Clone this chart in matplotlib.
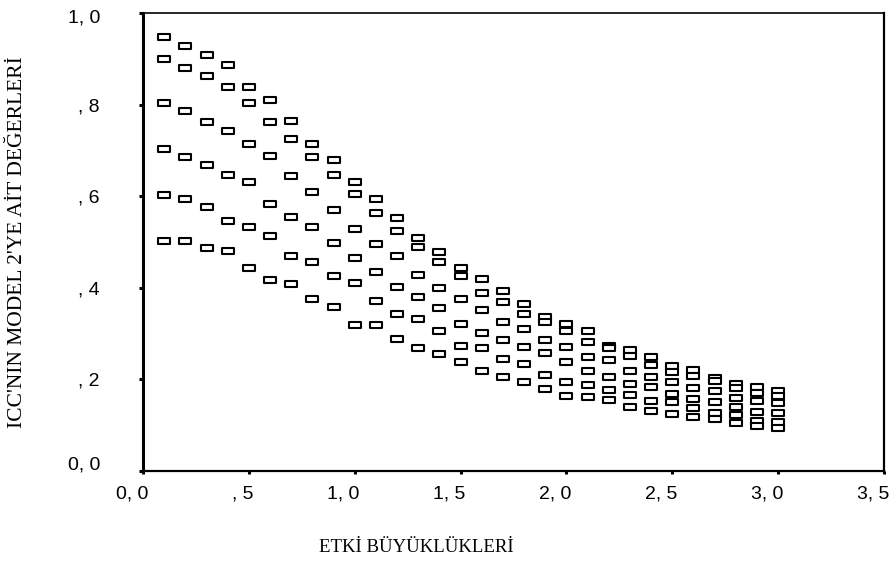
import matplotlib
matplotlib.use("Agg")
import matplotlib.pyplot as plt
import numpy as np
from matplotlib.path import Path
from matplotlib.transforms import ScaledTranslation

# effect sizes
x_vals = [0.1, 0.2, 0.3, 0.4, 0.5, 0.6, 0.7, 0.8, 0.9, 1.0,
          1.1, 1.2, 1.3, 1.4, 1.5, 1.6, 1.7, 1.8, 1.9, 2.0,
          2.1, 2.2, 2.3, 2.4, 2.5, 2.6, 2.7, 2.8, 2.9, 3.0]

# ICC values per series (highest to lowest at each effect size)
s1 = [.947, .929, .909, .886, .838, .809, .765, .714, .678, .630,
      .593, .553, .509, .479, .443, .419, .392, .365, .337, .322,
      .305, .272, .264, .248, .229, .221, .203, .191, .183, .175]
s2 = [.899, .881, .862, .838, .803, .761, .725, .685, .647, .604,
      .563, .523, .489, .456, .426, .389, .368, .342, .325, .305,
      .282, .268, .251, .231, .217, .207, .196, .181, .171, .164]
s3 = [.804, .787, .761, .742, .714, .688, .644, .610, .570, .529,
      .496, .469, .429, .399, .375, .352, .325, .311, .285, .271,
      .248, .242, .218, .205, .195, .181, .174, .160, .153, .148]
s4 = [.703, .686, .668, .647, .631, .584, .554, .533, .497, .466,
      .435, .402, .379, .355, .322, .302, .285, .271, .258, .238,
      .218, .206, .191, .184, .168, .158, .151, .140, .129, .126]
s5 = [.603, .593, .577, .546, .533, .513, .469, .457, .426, .410,
      .372, .342, .332, .305, .274, .268, .245, .234, .210, .194,
      .188, .177, .167, .153, .151, .137, .127, .122, .110, .107]
s6 = [.502, .502, .486, .480, .443, .417, .408, .376, .357, .319,
      .319, .288, .268, .255, .238, .218, .205, .194, .178, .164,
      .161, .155, .140, .131, .124, .117, .114, .105, .098, .093]

x_ticks = [0.0, 0.5, 1.0, 1.5, 2.0, 2.5, 3.0, 3.5]
x_ticklabels = ["0, 0", ", 5", "1, 0", "1, 5", "2, 0", "2, 5", "3, 0", "3, 5"]
y_ticks = [0.0, 0.2, 0.4, 0.6, 0.8, 1.0]
y_ticklabels = ["0, 0", ", 2", ", 4", ", 6", ", 8", "1, 0"]

fig = plt.figure(figsize=(8.89, 5.63), dpi=100)
ax = fig.add_axes([143/889, 1 - 471/563, (884-143)/889, (471-13)/563])

rect = Path([(-1, -0.55), (1, -0.55), (1, 0.55), (-1, 0.55), (-1, -0.55)],
            [Path.MOVETO, Path.LINETO, Path.LINETO, Path.LINETO, Path.CLOSEPOLY])

for s in (s1, s2, s3, s4, s5, s6):
    ax.plot(x_vals, s, linestyle='none', marker=rect, markersize=8.5,
            markerfacecolor='white', markeredgecolor='black', markeredgewidth=1.5)

ax.set_xlim(0, 3.5)
ax.set_ylim(0, 1.0)

ax.spines['left'].set_linewidth(2.2)
ax.spines['bottom'].set_linewidth(1.6)
ax.spines['top'].set_linewidth(1.2)
ax.spines['right'].set_linewidth(1.6)

ax.set_xticks(x_ticks)
ax.set_xticklabels(x_ticklabels, fontsize=14, fontfamily='Liberation Sans', ha='right')
ax.set_yticks(y_ticks)
ax.set_yticklabels(y_ticklabels, fontsize=14, fontfamily='Liberation Sans')
ax.tick_params(axis='x', direction='out', length=2.5, width=2.2, pad=8)
ax.tick_params(axis='y', direction='out', length=3, width=2.2, pad=28)

for lab in ax.get_xticklabels():
    lab.set_transform(lab.get_transform() + ScaledTranslation(5/100, 0, fig.dpi_scale_trans))
ylabs = ax.get_yticklabels()
ylabs[0].set_transform(ylabs[0].get_transform() + ScaledTranslation(0, 8/100, fig.dpi_scale_trans))
ylabs[-1].set_transform(ylabs[-1].get_transform() + ScaledTranslation(0, -3/100, fig.dpi_scale_trans))

fig.text(18/889, 1 - 242/563, "ICC'NIN MODEL 2'YE AİT DEĞERLERİ", rotation=90,
         ha='center', va='center', fontsize=15.5, fontfamily='Liberation Serif')
fig.text(416/889, 1 - 547/563, "ETKİ BÜYÜKLÜKLERİ",
         ha='center', va='center', fontsize=13.5, fontfamily='Liberation Serif')

fig.savefig("out.png", dpi=100)
